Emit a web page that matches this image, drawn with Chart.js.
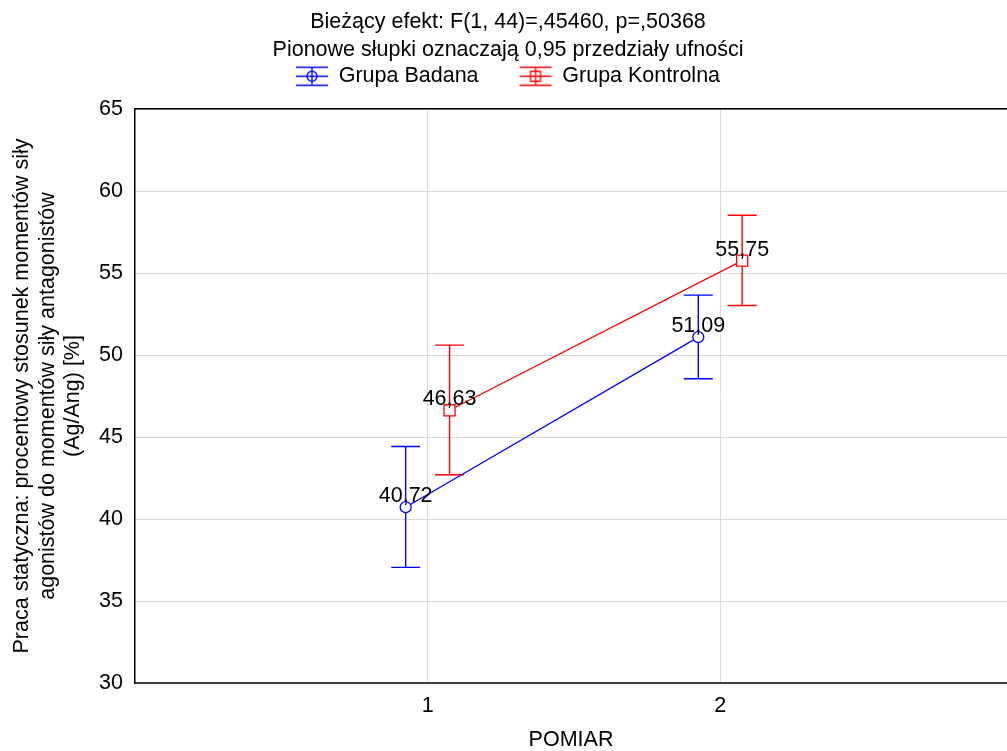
<!DOCTYPE html>
<html>
<head>
<meta charset="utf-8">
<script src="https://cdn.jsdelivr.net/npm/chart.js@4/dist/chart.umd.min.js"></script>
<style>
  html, body { margin: 0; padding: 0; background: #fff; }
</style>
</head>
<body>
<canvas id="chart" width="1007" height="751"></canvas>
<script>
// values
const pomiar = [1, 2];
const xTicks = [1, 2];
const yTicks = [30, 35, 40, 45, 50, 55, 60, 65];
const badanaMean = [40.72, 51.09];
const badanaLow = [37.05, 48.55];
const badanaHigh = [44.42, 53.65];
const kontrolnaMean = [46.63, 55.75];
const kontrolnaLow = [42.70, 53.02];
const kontrolnaHigh = [50.60, 58.52];

const SHIFT = 0.075; // groups drawn a bit left / right of the category
const BLUE = '#0000ff';
const RED = '#ff0000';
const FONT = "'Liberation Sans', Arial, sans-serif";
const FS = 21.5;

Chart.defaults.font.family = FONT;
Chart.defaults.color = '#000';

const fmt = v => v.toFixed(2).replace('.', ',');

// legend icon: error bar with a marker
function legendIcon(color, shape) {
  const c = document.createElement('canvas');
  c.width = 34; c.height = 22;
  const g = c.getContext('2d');
  g.strokeStyle = color;
  g.lineWidth = 1.3;
  g.beginPath();
  [2, 11, 20].forEach(y => { g.moveTo(1, y + 0.5); g.lineTo(33, y + 0.5); });
  g.moveTo(17, 2); g.lineTo(17, 20.5);
  g.stroke();
  g.beginPath();
  if (shape === 'circle') g.arc(17, 11.5, 5, 0, Math.PI * 2);
  else g.rect(12, 6.5, 10, 10);
  g.stroke();
  return c;
}

const errorBars = {
  id: 'errorBars',
  beforeDatasetsDraw(chart) {
    const { ctx, scales: { y } } = chart;
    chart.data.datasets.forEach((ds, i) => {
      const meta = chart.getDatasetMeta(i);
      ctx.save();
      ctx.strokeStyle = ds.barColor;
      ctx.lineWidth = 1.4;
      meta.data.forEach((pt, j) => {
        const top = y.getPixelForValue(ds.ciHigh[j]);
        const bot = y.getPixelForValue(ds.ciLow[j]);
        const px = pt.x;
        ctx.beginPath();
        ctx.moveTo(px, top); ctx.lineTo(px, bot);
        ctx.moveTo(px - 14.5, top); ctx.lineTo(px + 14.5, top);
        ctx.moveTo(px - 14.5, bot); ctx.lineTo(px + 14.5, bot);
        ctx.stroke();
      });
      ctx.restore();
    });
  }
};

const valueLabels = {
  id: 'valueLabels',
  afterDatasetsDraw(chart) {
    const { ctx } = chart;
    ctx.save();
    ctx.font = FS + 'px ' + FONT;
    ctx.fillStyle = '#000';
    ctx.textAlign = 'center';
    ctx.textBaseline = 'alphabetic';
    chart.data.datasets.forEach((ds, i) => {
      chart.getDatasetMeta(i).data.forEach((pt, j) => {
        ctx.fillText(fmt(ds.data[j].y), pt.x, pt.y - 5);
      });
    });
    ctx.restore();
  }
};

const ctx = document.getElementById('chart').getContext('2d');
const chart = new Chart(ctx, {
  type: 'line',
  data: {
    datasets: [
      {
        label: 'Grupa Badana',
        data: pomiar.map((p, i) => ({ x: p - SHIFT, y: badanaMean[i] })),
        ciLow: badanaLow,
        ciHigh: badanaHigh,
        barColor: BLUE,
        borderColor: BLUE,
        backgroundColor: '#fff',
        borderWidth: 1.3,
        pointStyle: 'circle',
        pointRadius: 5.5,
        pointBorderWidth: 1.3,
        pointHoverRadius: 5.5
      },
      {
        label: 'Grupa Kontrolna',
        data: pomiar.map((p, i) => ({ x: p + SHIFT, y: kontrolnaMean[i] })),
        ciLow: kontrolnaLow,
        ciHigh: kontrolnaHigh,
        barColor: RED,
        borderColor: RED,
        backgroundColor: '#fff',
        borderWidth: 1.3,
        pointStyle: 'rect',
        pointRadius: 7.8,
        pointBorderWidth: 1.3,
        pointHoverRadius: 7.8
      }
    ]
  },
  options: {
    responsive: false,
    animation: false,
    layout: { autoPadding: false, padding: { left: 9, right: 0, top: 0, bottom: 0 } },
    plugins: {
      tooltip: { enabled: false },
      title: {
        display: true,
        text: ['Bieżący efekt: F(1, 44)=,45460, p=,50368', 'Pionowe słupki oznaczają 0,95 przedziały ufności'],
        font: { size: FS, weight: 'normal', lineHeight: 28 / FS },
        color: '#000',
        padding: { top: 8, bottom: -40 }
      },
      legend: {
        display: true,
        labels: {
          font: { size: FS },
          color: '#000',
          usePointStyle: true,
          pointStyleWidth: 32,
          padding: 41,
          generateLabels(chart) {
            const items = Chart.defaults.plugins.legend.labels.generateLabels(chart);
            items[0].pointStyle = legendIcon(BLUE, 'circle');
            items[1].pointStyle = legendIcon(RED, 'rect');
            return items;
          }
        }
      }
    },
    scales: {
      x: {
        type: 'linear',
        position: 'bottom',
        min: 0,
        max: 2.98,
        afterBuildTicks(scale) { scale.ticks = xTicks.map(v => ({ value: v })); },
        afterFit(scale) { scale.height = 68; },
        ticks: { font: { size: FS }, color: '#000', padding: 10, callback: v => String(v) },
        grid: { color: '#d9d9d9', drawTicks: false },
        border: { color: '#404040', width: 2 },
        title: { display: true, text: 'POMIAR', font: { size: FS, lineHeight: 1 }, color: '#000', padding: { top: 0, bottom: 0 } }
      },
      xTop: {
        type: 'linear',
        position: 'top',
        min: 0,
        max: 2.98,
        afterFit(scale) { scale.height = 12.5; },
        ticks: { display: false },
        grid: { display: false, drawTicks: false },
        border: { display: true, color: '#000', width: 1.5 }
      },
      y: {
        min: 30,
        max: 65,
        afterBuildTicks(scale) { scale.ticks = yTicks.map(v => ({ value: v })); },
        afterFit(scale) { scale.width = 126; },
        ticks: { font: { size: FS }, color: '#000', padding: 12 },
        grid: { color: '#d9d9d9', drawTicks: false },
        border: { color: '#000', width: 1.5 },
        title: {
          display: true,
          text: ['Praca statyczna: procentowy stosunek momentów siły', 'agonistów do momentów siły antagonistów', '(Ag/Ang) [%]'],
          font: { size: FS },
          color: '#000',
          padding: { top: 0, bottom: 0 }
        }
      }
    }
  },
  plugins: [errorBars, valueLabels]
});
</script>
</body>
</html>
